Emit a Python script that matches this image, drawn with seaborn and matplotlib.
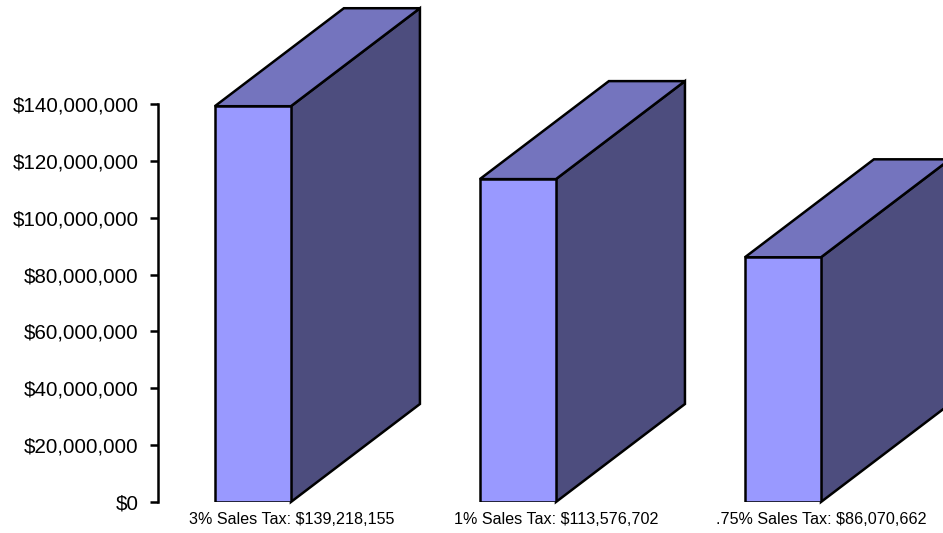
import matplotlib
matplotlib.use("Agg")
import matplotlib.pyplot as plt
import seaborn as sns
import pandas as pd
from matplotlib.patches import Polygon
from matplotlib.ticker import FuncFormatter, FixedLocator
from matplotlib.transforms import ScaledTranslation

categories = ["3% Sales Tax: $139,218,155",
              "1% Sales Tax: $113,576,702",
              ".75% Sales Tax: $86,070,662"]
values = [139218155, 113576702, 86070662]
yticks = [0, 20e6, 40e6, 60e6, 80e6, 100e6, 120e6, 140e6]

FRONT = "#9999FF"
TOP = "#7474BE"
SIDE = "#4D4D7E"

sns.set_style("white")
plt.rcParams["font.family"] = ["Liberation Sans", "DejaVu Sans"]

fig = plt.figure(figsize=(9.43, 5.33), dpi=100)
ax = fig.add_axes([158 / 943, 31 / 533, 785 / 943, 502 / 533])

df = pd.DataFrame({"cat": categories, "val": values})
sns.barplot(data=df, x="cat", y="val", ax=ax, color=FRONT, saturation=1,
            width=0.287, edgecolor="black", linewidth=1.8, zorder=3)

ax.set_xlim(-0.358, 2.604)
ax.set_ylim(0, 176.58e6)

# 3D depth (in data units)
dx = 0.4868
dy = 34.47e6
for p in list(ax.patches):
    x0 = p.get_x()
    w = p.get_width()
    h = p.get_height()
    side = Polygon([(x0 + w, 0), (x0 + w + dx, dy), (x0 + w + dx, h + dy), (x0 + w, h)],
                   closed=True, facecolor=SIDE, edgecolor="black", linewidth=1.8,
                   joinstyle="miter", zorder=2, clip_on=False)
    top = Polygon([(x0, h), (x0 + dx, h + dy), (x0 + w + dx, h + dy), (x0 + w, h)],
                  closed=True, facecolor=TOP, edgecolor="black", linewidth=1.8,
                  joinstyle="miter", zorder=2, clip_on=False)
    ax.add_patch(side)
    ax.add_patch(top)

ax.yaxis.set_major_locator(FixedLocator(yticks))
ax.yaxis.set_major_formatter(FuncFormatter(lambda v, pos: f"${v:,.0f}"))
ax.tick_params(axis="y", direction="out", length=6, width=1.8, pad=8,
               labelsize=14.8, colors="black", left=True)
ax.tick_params(axis="x", length=0, pad=7, labelsize=11.6, colors="black")

for lbl in ax.get_xticklabels():
    lbl.set_transform(lbl.get_transform() + ScaledTranslation(0.385, 0, fig.dpi_scale_trans))

for s in ["top", "right", "bottom"]:
    ax.spines[s].set_visible(False)
ax.spines["left"].set_bounds(0, 140e6)
ax.spines["left"].set_linewidth(1.8)
ax.spines["left"].set_color("black")

ax.set_xlabel("")
ax.set_ylabel("")
ax.grid(False)

fig.savefig("out.png", dpi=100)
